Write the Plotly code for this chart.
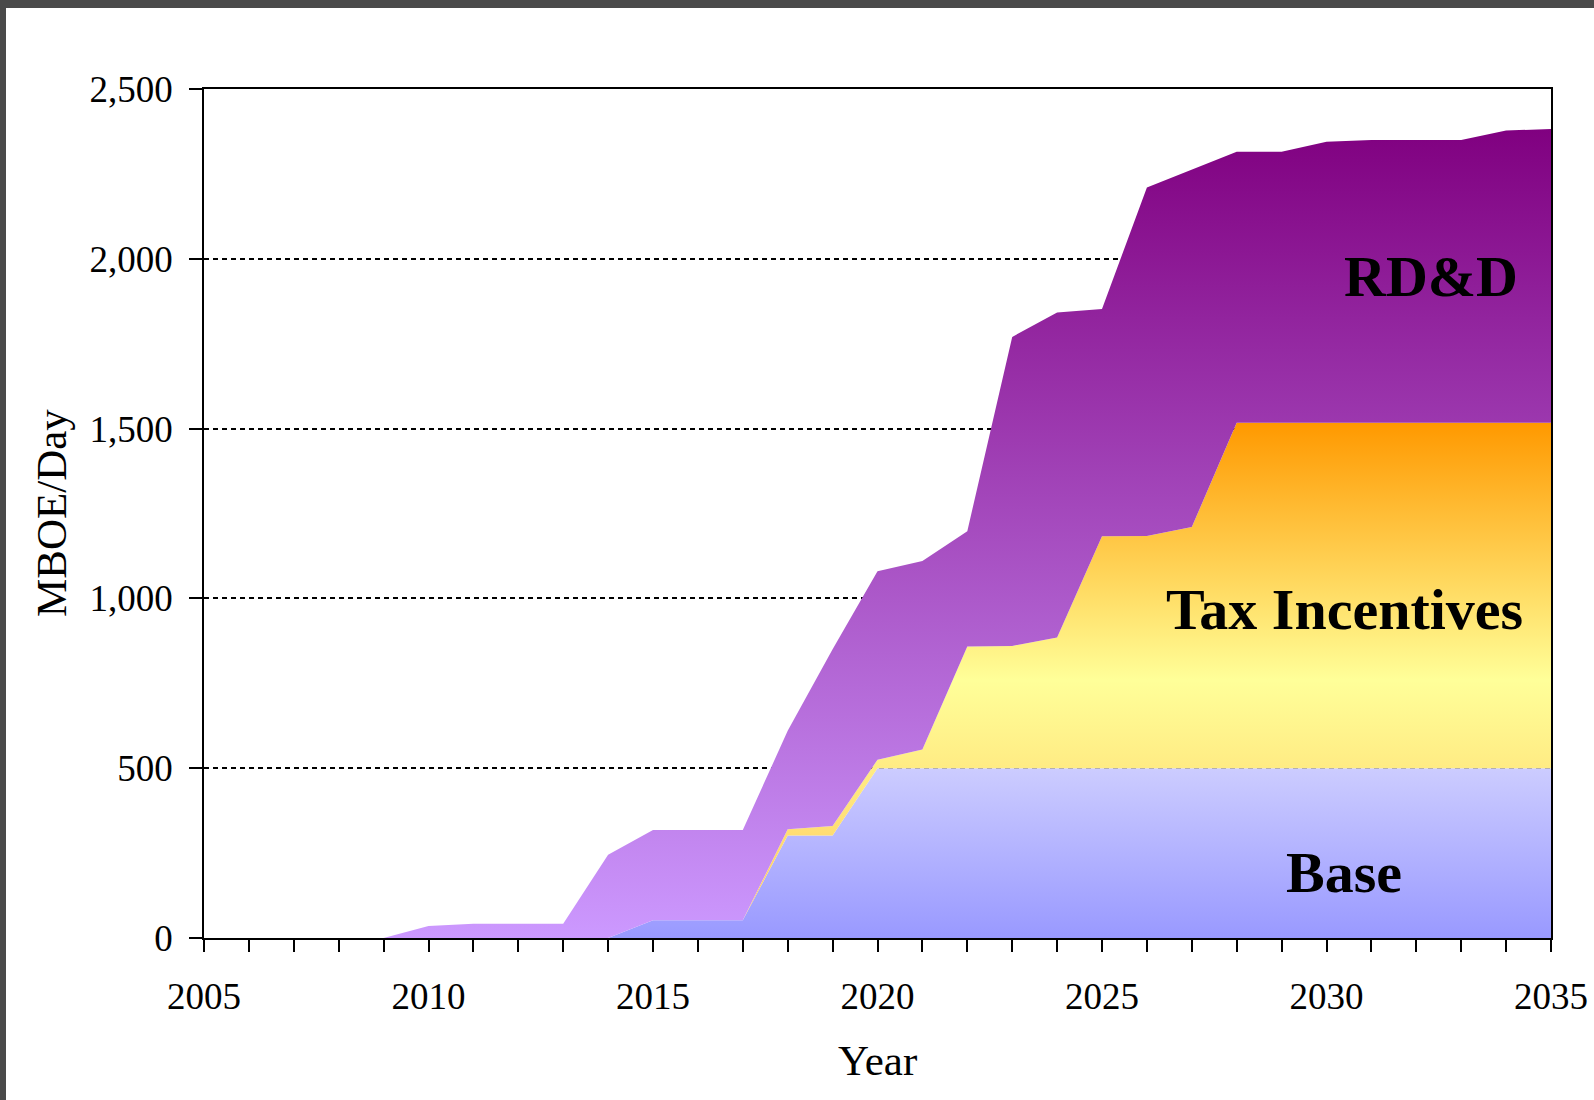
import plotly.graph_objects as go

years = list(range(2005, 2036))

# cumulative tops (MBOE/Day)
base_top = [0, 0, 0, 0, 0, 0, 0, 0, 0, 0,
            52, 52, 52, 302, 302, 500, 500, 500, 500, 500,
            500, 500, 500, 500, 500, 500, 500, 500, 500, 500, 500]
tax_top = [0, 0, 0, 0, 0, 0, 0, 0, 0, 0,
           52, 52, 52, 320, 330, 525, 555, 858, 860, 885,
           1183, 1184, 1210, 1517, 1517, 1517, 1517, 1517, 1517, 1517, 1517]
total_top = [0, 0, 0, 0, 0, 35, 42, 42, 42, 245,
             318, 318, 318, 610, 850, 1080, 1110, 1198, 1770, 1842,
             1852, 2210, 2262, 2315, 2315, 2345, 2350, 2350, 2350, 2378, 2382]

base = base_top
tax = [t - b for t, b in zip(tax_top, base_top)]
rdd = [a - t for a, t in zip(total_top, tax_top)]

series_names = ["Base", "Tax Incentives", "RD&D"]
y_ticks = [0, 500, 1000, 1500, 2000, 2500]

SERIF = "Liberation Serif, Times New Roman, serif"

fig = go.Figure()
fig.add_trace(go.Scatter(
    x=years, y=base, name=series_names[0], mode="lines", stackgroup="one",
    line=dict(width=0),
    fillgradient=dict(type="vertical", start=0, stop=500,
                      colorscale=[[0, "#9999ff"], [1, "#ccccff"]]),
    hoverinfo="skip"))
fig.add_trace(go.Scatter(
    x=years, y=tax, name=series_names[1], mode="lines", stackgroup="one",
    line=dict(width=0),
    fillgradient=dict(type="vertical", start=0, stop=1517,
                      colorscale=[[0, "#ffc65a"], [0.5, "#ffff99"], [1, "#ff9900"]]),
    hoverinfo="skip"))
fig.add_trace(go.Scatter(
    x=years, y=rdd, name=series_names[2], mode="lines", stackgroup="one",
    line=dict(width=0),
    fillgradient=dict(type="vertical", start=0, stop=2385,
                      colorscale=[[0, "#cc99ff"], [1, "#800080"]]),
    hoverinfo="skip"))

ann_font = dict(family=SERIF, size=58, color="black")
fig.add_annotation(x=2032.33, y=1949, text="<b>RD&amp;D</b>", showarrow=False, font=ann_font)
fig.add_annotation(x=2030.4, y=966, text="<b>Tax Incentives</b>", showarrow=False, font=ann_font)
fig.add_annotation(x=2030.4, y=194, text="<b>Base</b>", showarrow=False, font=ann_font)

L, R, T, B = 204, 43, 89, 162
PW, PH = 1594 - L - R, 1100 - T - B

def px_x(p):
    return (p - L) / PW

def px_y(p):
    return (1100 - B - p) / PH

title_font = dict(family=SERIF, size=43, color="black")
fig.add_annotation(xref="paper", yref="paper", x=px_x(51), y=px_y(513),
                   text="MBOE/Day", textangle=-90, showarrow=False,
                   xanchor="center", yanchor="middle", font=title_font)
fig.add_annotation(xref="paper", yref="paper", x=px_x(878), y=px_y(1060),
                   text="Year", showarrow=False,
                   xanchor="center", yanchor="middle", font=title_font)

# dark frame at top and left edges of the picture
fig.add_shape(type="rect", xref="paper", yref="paper",
              x0=-0.2, x1=px_x(6), y0=-0.25, y1=1.2,
              fillcolor="#4a4a4a", line=dict(width=0), layer="above")
fig.add_shape(type="rect", xref="paper", yref="paper",
              x0=-0.2, x1=1.1, y0=px_y(8), y1=1.2,
              fillcolor="#4a4a4a", line=dict(width=0), layer="above")

fig.update_layout(
    width=1594, height=1100,
    margin=dict(l=L, r=R, t=T, b=B, pad=0, autoexpand=False),
    paper_bgcolor="white", plot_bgcolor="white",
    showlegend=False,
    font=dict(family=SERIF, color="black"),
    xaxis=dict(
        range=[2005, 2035], tick0=2005, dtick=5, tickformat="d",
        ticks="outside", ticklen=12, tickwidth=1.5, tickcolor="black",
        minor=dict(dtick=1, ticks="outside", ticklen=12, tickwidth=1.5, tickcolor="black", showgrid=False),
        showline=True, linecolor="black", linewidth=1.5, mirror=True,
        showgrid=False, zeroline=False, automargin=False,
        tickfont=dict(family=SERIF, size=37, color="black"),
        ticklabelstandoff=13,
    ),
    yaxis=dict(
        range=[0, 2500], tickvals=y_ticks, tickformat=",d",
        ticks="outside", ticklen=13, tickwidth=1.5, tickcolor="black",
        showline=True, linecolor="black", linewidth=1.5, mirror=True,
        showgrid=True, gridcolor="black", gridwidth=1.5, griddash="5px,4px",
        zeroline=False, automargin=False,
        tickfont=dict(family=SERIF, size=37, color="black"),
        ticklabelstandoff=9,
    ),
)

fig.write_html("out.html", config={"displayModeBar": False},
               post_script="document.body.style.margin='0px';document.body.style.overflow='hidden';")
